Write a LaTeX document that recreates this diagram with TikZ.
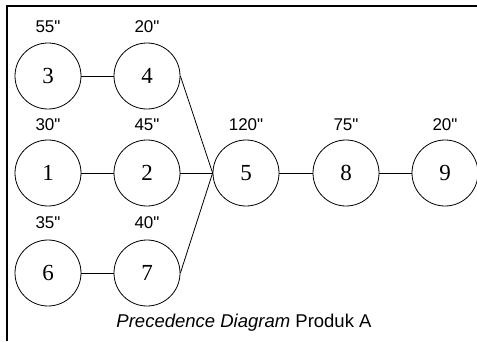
\documentclass[tikz,border=0pt]{standalone}
\usepackage{fontspec}
\setmainfont{Liberation Serif}
\newfontfamily\labfont{Liberation Sans}
\begin{document}
\begin{tikzpicture}[x=1pt,y=-1pt,
  task/.style={circle,draw,line width=0.8pt,minimum size=66pt,inner sep=0pt,font=\fontsize{23}{23}\selectfont},
  dur/.style={font=\labfont\fontsize{17}{17}\selectfont},
  link/.style={line width=0.8pt}]
\useasboundingbox (0,0) rectangle (477,341);
\coordinate (tl) at (7,6);
\coordinate (tr) at (477,6);
\coordinate (bl) at (7,341);
\draw[line width=2pt] (tr) -- (tl) -- (bl);
\node[task] (n3) at (48,76) {3};
\node[task] (n4) at (147,76) {4};
\node[task] (n1) at (48,173) {1};
\node[task] (n2) at (147,173) {2};
\node[task] (n5) at (246,173) {5};
\node[task] (n8) at (346,173) {8};
\node[task] (n9) at (445,173) {9};
\node[task] (n6) at (48,273) {6};
\node[task] (n7) at (147,273) {7};
\node[dur] (d3) at (48,27) {55"};
\node[dur] (d4) at (147,27) {20"};
\node[dur] (d1) at (48,125) {30"};
\node[dur] (d2) at (147,125) {45"};
\node[dur] (d5) at (246,125) {120"};
\node[dur] (d8) at (346,125) {75"};
\node[dur] (d9) at (445,125) {20"};
\node[dur] (d6) at (48,223) {35"};
\node[dur] (d7) at (147,223) {40"};
\draw[link] (n3) -- (n4);
\draw[link] (n1) -- (n2);
\draw[link] (n6) -- (n7);
\draw[link] (n2) -- (n5);
\draw[link] (n5) -- (n8);
\draw[link] (n8) -- (n9);
\draw[link] (n4.east) -- (n5.west);
\draw[link] (n7.east) -- (n5.west);
\node[font=\labfont\fontsize{18.5}{18.5}\selectfont] (cap) at (244,323) {\textit{Precedence Diagram} Produk A};
\end{tikzpicture}
\end{document}
